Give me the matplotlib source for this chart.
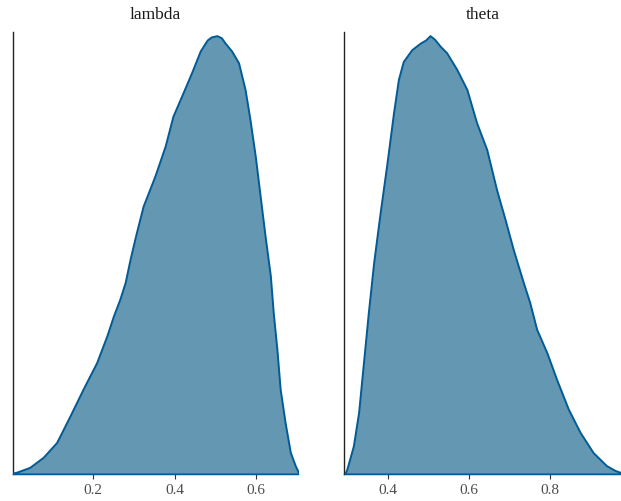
import matplotlib
matplotlib.use("Agg")
import matplotlib.pyplot as plt

# density curves (height relative to panel peak)
lambda_x = [0.004, 0.013, 0.045, 0.078, 0.111, 0.144, 0.176, 0.209, 0.234, 0.250,
            0.266, 0.279, 0.291, 0.305, 0.323, 0.352, 0.377, 0.396, 0.421, 0.442,
            0.463, 0.480, 0.490, 0.504, 0.515, 0.524, 0.540, 0.557, 0.573, 0.585,
            0.598, 0.610, 0.622, 0.635, 0.642, 0.651, 0.659, 0.671, 0.684, 0.696,
            0.703]
lambda_y = [0.002, 0.004, 0.015, 0.038, 0.072, 0.133, 0.194, 0.254, 0.315, 0.360,
            0.399, 0.437, 0.490, 0.545, 0.611, 0.680, 0.748, 0.816, 0.870, 0.916,
            0.965, 0.990, 0.997, 1.000, 0.995, 0.983, 0.965, 0.938, 0.877, 0.809,
            0.725, 0.634, 0.543, 0.452, 0.369, 0.285, 0.194, 0.118, 0.049, 0.019,
            0.005]

theta_x = [0.294, 0.299, 0.315, 0.328, 0.340, 0.352, 0.365, 0.381, 0.398, 0.414,
           0.426, 0.438, 0.459, 0.480, 0.493, 0.504, 0.515, 0.530, 0.545, 0.570,
           0.595, 0.619, 0.644, 0.668, 0.689, 0.709, 0.734, 0.750, 0.767, 0.792,
           0.816, 0.845, 0.874, 0.906, 0.939, 0.960, 0.975]
theta_y = [0.000, 0.011, 0.064, 0.141, 0.255, 0.369, 0.482, 0.596, 0.710, 0.824,
           0.900, 0.941, 0.968, 0.983, 0.990, 1.000, 0.992, 0.975, 0.961, 0.923,
           0.877, 0.801, 0.740, 0.649, 0.581, 0.513, 0.437, 0.391, 0.330, 0.277,
           0.216, 0.148, 0.095, 0.049, 0.019, 0.008, 0.003]

panels = [
    ("lambda", lambda_x, lambda_y, (0.004, 0.703), [0.2, 0.4, 0.6]),
    ("theta", theta_x, theta_y, (0.292, 0.975), [0.4, 0.6, 0.8]),
]

FILL = "#6497b1"
LINE = "#005b96"

plt.rcParams["font.family"] = ["Liberation Serif", "DejaVu Serif"]

fig = plt.figure(figsize=(6.21, 5.02), dpi=100)
boxes = [[0.021, 0.054, 0.459, 0.88], [0.554, 0.054, 0.446, 0.88]]

for box, (name, xs, ys, xlim, ticks) in zip(boxes, panels):
    ax = fig.add_axes(box)
    ax.fill_between(xs, ys, 0, facecolor=FILL, edgecolor=LINE, linewidth=1.4,
                    joinstyle="round", zorder=3)
    ax.set_xlim(*xlim)
    ax.set_ylim(0, 1.008)
    ax.set_xticks(ticks)
    ax.set_xticklabels([f"{t:.1f}" for t in ticks])
    ax.set_yticks([])
    ax.set_title(name, fontsize=12.5, color="#1a1a1a", pad=10)
    for s in ("top", "right"):
        ax.spines[s].set_visible(False)
    for s in ("left", "bottom"):
        ax.spines[s].set_color("#222222")
        ax.spines[s].set_linewidth(1.0)
    ax.tick_params(axis="x", length=3.5, width=0.8, color="#333333",
                   labelsize=11, labelcolor="#4d4d4d", pad=3)

fig.savefig("out.png", dpi=100)
